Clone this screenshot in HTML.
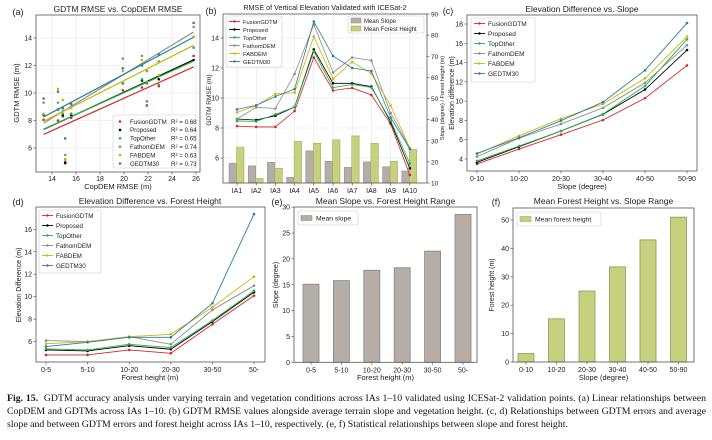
<!DOCTYPE html>
<html><head><meta charset="utf-8">
<style>
html,body{margin:0;padding:0;background:#fff;}
#wrap{position:relative;width:712px;height:440px;overflow:hidden;}
svg{position:absolute;left:0;top:0;font-family:"Liberation Sans","DejaVu Sans",sans-serif;}
#cap{position:absolute;left:7px;top:392px;width:699px;font-family:"Liberation Serif",serif;font-size:9.8px;line-height:13px;text-align:justify;color:#111;}
</style></head>
<body>
<div id="wrap">
<svg id="fig" width="712" height="390" viewBox="0 0 712 390"></svg>
<div id="cap"><b>Fig. 15.</b>&nbsp; GDTM accuracy analysis under varying terrain and vegetation conditions across IAs 1–10 validated using ICESat-2 validation points. (a) Linear relationships between CopDEM and GDTMs across IAs 1–10. (b) GDTM RMSE values alongside average terrain slope and vegetation height. (c, d) Relationships between GDTM errors and average slope and between GDTM errors and forest height across IAs 1–10, respectively. (e, f) Statistical relationships between slope and forest height.</div>
</div>
<script>
// ---------- data ----------
const seriesNames = ['FusionGDTM','Proposed','TopOther','FathomDEM','FABDEM','GEDTM30'];
const seriesR2 = ['0.68','0.64','0.65','0.74','0.63','0.73'];
// (a) scatter
const aCopDEM = [13.3,14.5,14.9,15.1,15.6,19.9,21.5,21.9,22.9,25.8];
const aFusion = [8.05,8.0,8.3,5.0,8.2,10.2,10.4,9.1,10.5,12.7];
const aProposed = [8.4,8.8,8.4,4.9,8.4,10.7,10.9,10.8,11.0,12.4];
const aTopOther = [8.45,8.8,8.5,5.2,8.5,10.7,11.0,9.4,10.6,13.3];
const aFathom = [9.3,9.3,8.7,5.5,9.2,12.5,12.7,11.6,12.3,14.8];
const aFABDEM = [8.5,10.3,9.5,5.2,8.9,11.6,12.4,10.8,11.3,14.1];
const aGEDTM = [9.6,10.1,8.9,6.7,9.2,11.8,12.0,10.7,12.8,15.1];
const aTicksX = [14,16,18,20,22,24,26];
const aTicksY = [6,8,10,12,14];
// (b)
const bCats = ['IA1','IA2','IA3','IA4','IA5','IA6','IA7','IA8','IA9','IA10'];
const bFusion = [8.13,8.07,8.07,9.13,12.7,10.5,10.67,10.2,8.27,4.87];
const bProposed = [8.6,8.53,8.82,9.4,13.24,10.98,10.98,10.76,8.4,5.31];
const bTopOther = [8.47,8.44,8.91,9.4,13.1,10.7,10.9,10.7,8.5,5.64];
const bFathom = [8.6,9.38,9.3,11.6,14.9,11.7,12.7,12.5,9.0,6.67];
const bFABDEM = [9.04,9.49,10.27,10.36,14.1,11.27,12.4,11.64,9.5,6.67];
const bGEDTM = [9.24,9.51,10.1,10.6,15.1,12.8,12.0,11.8,8.7,6.6];
const bSlope = [19.3,18.1,19.8,12.7,25.2,20.3,17.4,20.0,17.7,15.7];
const bForest = [27.0,12.2,17.0,29.7,28.8,30.5,32.3,28.8,20.3,26.0];
const bTicksL = [6,8,10,12,14];
const bTicksR = [10,20,30,40,50,60,70,80,90];
// (c)
const cCats = ['0-10','10-20','20-30','30-40','40-50','50-90'];
const cFusion = [3.48,5.03,6.52,8.04,10.3,13.7];
const cProposed = [3.65,5.27,6.9,8.63,11.2,15.3];
const cTopOther = [3.79,5.34,6.9,8.66,11.57,16.4];
const cFathom = [4.24,6.15,7.63,9.3,11.9,15.8];
const cFABDEM = [4.51,6.4,8.18,9.7,12.37,16.7];
const cGEDTM = [4.58,6.2,7.97,9.9,13.2,18.1];
const cTicksY = [4,6,8,10,12,14,16,18];
// (d)
const dCats = ['0-5','5-10','10-20','20-30','30-50','50-'];
const dFusion = [4.81,4.81,5.26,4.96,7.54,10.09];
const dProposed = [5.26,5.17,5.64,5.32,7.78,10.39];
const dTopOther = [5.35,5.26,5.76,5.47,7.87,10.53];
const dFathom = [6.09,6.0,6.44,5.76,8.82,10.98];
const dFABDEM = [5.8,6.0,6.44,6.65,9.06,11.78];
const dGEDTM = [5.56,5.94,6.38,6.38,9.41,17.36];
const dTicksY = [6,8,10,12,14,16];
// (e)
const eCats = ['0-5','5-10','10-20','20-30','30-50','50-'];
const eSlope = [15.1,15.8,17.8,18.3,21.5,28.6];
const eTicksY = [0,5,10,15,20,25,30];
// (f)
const fCats = ['0-10','10-20','20-30','30-40','40-50','50-90'];
const fHeight = [3.0,15.2,25.0,33.5,43.0,51.0];
const fTicksY = [0,10,20,30,40,50];

const COLORS = ['#d62728','#000000','#22b14c','#8c8c8c','#c9b800','#2a7f9e'];
const NS = 'http://www.w3.org/2000/svg';
const svg = document.getElementById('fig');

function mk(tag, attrs, parent){
  const e = document.createElementNS(NS, tag);
  for (const k in attrs) e.setAttribute(k, attrs[k]);
  (parent||svg).appendChild(e);
  return e;
}
function txt(s, x, y, size, anchor, parent, rot){
  const t = mk('text', {x:x, y:y, 'font-size':size, 'text-anchor':anchor||'middle', fill:'#222'}, parent);
  if (rot) t.setAttribute('transform', 'rotate(-90 '+x+' '+y+')');
  t.textContent = s;
  return t;
}
function frame(g, x0,y0,x1,y1){
  const r = mk('rect', {x:x0,y:y0,width:x1-x0,height:y1-y0,fill:'none',stroke:'#555','stroke-width':0.8}, g);
  
  
}
function yTicks(g, ticks, sy, x, grid, x1){
  ticks.forEach(v=>{
    const y = sy(v);
    if (grid) mk('line',{x1:x,x2:x1,y1:y,y2:y,stroke:'#e3e3e3','stroke-width':0.6},g);
    mk('line',{x1:x-2.5,x2:x,y1:y,y2:y,stroke:'#444','stroke-width':0.6},g);
    const t = txt(String(v), x-4, y+2.5, 7, 'end', g);
    
    
  });
}
function xTicksCat(g, cats, sx, y, grid, y0){
  cats.forEach((c,i)=>{
    const x = sx(i);
    if (grid) mk('line',{x1:x,x2:x,y1:y0,y2:y,stroke:'#e3e3e3','stroke-width':0.6},g);
    mk('line',{x1:x,x2:x,y1:y,y2:y+2.5,stroke:'#444','stroke-width':0.6},g);
    const t = txt(c, x, y+10, 7, 'middle', g);
    
    
  });
}
function seriesLine(g, vals, sx, sy, color, name, w){
  const pts = vals.map((v,i)=>sx(i)+','+sy(v)).join(' ');
  const pl = mk('polyline',{points:pts,fill:'none',stroke:color,'stroke-width':w||0.9},g);
  
  
  vals.forEach((v,i)=>{
    const c = mk('circle',{cx:sx(i),cy:sy(v),r:1.3,fill:color},g);
    
    
  });
}
function lineLegend(g, x, y, w, h, step, fs){
  const r = mk('rect',{x:x,y:y,width:w,height:h,fill:'#fff',stroke:'#ccc','stroke-width':0.6,rx:1.5},g);
  
  
  seriesNames.forEach((n,i)=>{
    const yy = y+5.5+i*step;
    mk('line',{x1:x+3,x2:x+14,y1:yy,y2:yy,stroke:COLORS[i],'stroke-width':0.9},g);
    mk('circle',{cx:x+8.5,cy:yy,r:1.2,fill:COLORS[i]},g);
    const t = txt(n, x+17, yy+2.3, fs, 'start', g);
    
    
  });
}

// ---------- (a) ----------
(function(){
  const g = mk('g',{});
  
  
  const sx = v=>52+(v-14)*12, sy = v=>38+(14-v)*13.75;
  aTicksX.forEach(v=>{
    mk('line',{x1:sx(v),x2:sx(v),y1:15,y2:172,stroke:'#e3e3e3','stroke-width':0.6},g);
    mk('line',{x1:sx(v),x2:sx(v),y1:172,y2:174.5,stroke:'#444','stroke-width':0.6},g);
    const t = txt(String(v), sx(v), 181, 7, 'middle', g);
    
    
  });
  yTicks(g, aTicksY, sy, 36, true, 200);
  frame(g,36,15,200,172);
  const all = [aFusion,aProposed,aTopOther,aFathom,aFABDEM,aGEDTM];
  all.forEach((ys,k)=>{
    const n = ys.length; let mx=0,my=0; aCopDEM.forEach((x,i)=>{mx+=x;my+=ys[i];}); mx/=n; my/=n;
    let sxy=0,sxx=0; aCopDEM.forEach((x,i)=>{sxy+=(x-mx)*(ys[i]-my);sxx+=(x-mx)*(x-mx);});
    const b = sxy/sxx, a0 = my-b*mx;
    const x0=Math.min(...aCopDEM), x1=Math.max(...aCopDEM);
    const l = mk('line',{x1:sx(x0),y1:sy(a0+b*x0),x2:sx(x1),y2:sy(a0+b*x1),stroke:COLORS[k],'stroke-width':1.2},g);
    
    
    ys.forEach((v,i)=>{
      const p = mk('circle',{cx:sx(aCopDEM[i]),cy:sy(v),r:1.3,fill:COLORS[k]},g);
      
      
    });
  });
  const lg = mk('rect',{x:113,y:115,width:83,height:53,fill:'#fff',stroke:'#ccc','stroke-width':0.6,rx:1.5},g);
  
  
  seriesNames.forEach((n,i)=>{
    const yy = 121.5+i*8.4;
    mk('circle',{cx:120,cy:yy,r:1.3,fill:COLORS[i]},g);
    const t = txt(n, 130, yy+2.3, 6.2, 'start', g);
    
    
    const r = txt('R² = '+seriesR2[i], 171, yy+2.3, 6.2, 'start', g);
    
    
  });
  const ti = txt('GDTM RMSE vs. CopDEM RMSE', 118, 12, 8.5, 'middle', g);
  
  
  const pl = txt('(a)', 18, 15, 9, 'middle', g);
  
  
  const yl = txt('GDTM RMSE (m)', 19, 93, 7.5, 'middle', g, true);
  
  
  const xl = txt('CopDEM RMSE (m)', 118, 189, 7.5, 'middle', g);
  
  
})();

// ---------- (b) ----------
(function(){
  const g = mk('g',{});
  
  
  const sx = i=>237+i*19.2, sy = v=>38+(14-v)*15, sr = v=>183-(v-10)*2.1125;
  bCats.forEach((c,i)=>mk('line',{x1:sx(i),x2:sx(i),y1:14,y2:183,stroke:'#e3e3e3','stroke-width':0.6},g));
  yTicks(g, bTicksL, sy, 223, true, 427);
  bTicksR.forEach(v=>{
    mk('line',{x1:427,x2:429.5,y1:sr(v),y2:sr(v),stroke:'#444','stroke-width':0.6},g);
    const t = txt(String(v), 431, sr(v)+2.5, 6.5, 'start', g);
    
    
  });
  bCats.forEach((c,i)=>{
    const b1 = mk('rect',{x:sx(i)-8,y:sr(bSlope[i]),width:7.5,height:183-sr(bSlope[i]),fill:'#b5aea8',stroke:'#888','stroke-width':0.5},g);
    
    
    const b2 = mk('rect',{x:sx(i)-0.5,y:sr(bForest[i]),width:7.5,height:183-sr(bForest[i]),fill:'#c5d17f',stroke:'#9aa55a','stroke-width':0.5},g);
    
    
  });
  xTicksCat(g, bCats, sx, 183, false, 14);
  [bFusion,bProposed,bTopOther,bFathom,bFABDEM,bGEDTM].forEach((v,k)=>seriesLine(g,v,sx,sy,COLORS[k],seriesNames[k],0.8));
  frame(g,223,14,427,183);
  lineLegend(g,226,16,56,51,8,5.8);
  const lg = mk('rect',{x:348,y:16,width:76,height:17,fill:'#fff',stroke:'#ccc','stroke-width':0.6,rx:1.5},g);
  
  
  mk('rect',{x:351,y:18,width:10,height:5,fill:'#b5aea8',stroke:'#888','stroke-width':0.5},g);
  mk('rect',{x:351,y:26,width:10,height:5,fill:'#c5d17f',stroke:'#9aa55a','stroke-width':0.5},g);
  const l1 = txt('Mean Slope', 364, 23, 6, 'start', g);
  
  
  const l2 = txt('Mean Forest Height', 364, 31, 6, 'start', g);
  
  
  const ti = txt('RMSE of Vertical Elevation Validated with ICESat-2', 325, 10, 7.2, 'middle', g);
  
  
  const pl = txt('(b)', 211, 14, 9, 'middle', g);
  
  
  const yl = txt('GDTM RMSE (m)', 211, 100, 6.5, 'middle', g, true);
  
  
  const yr = txt('Slope (degree) / Forest height (m)', 444, 98, 5.6, 'middle', g, true);
  
  
})();

// ---------- (c) ----------
(function(){
  const g = mk('g',{});
  
  
  const sx = i=>477+i*42, sy = v=>24+(18-v)*9.64;
  yTicks(g, cTicksY, sy, 467, false, 697);
  xTicksCat(g, cCats, sx, 171, false, 15);
  [cFusion,cProposed,cTopOther,cFathom,cFABDEM,cGEDTM].forEach((v,k)=>seriesLine(g,v,sx,sy,COLORS[k],seriesNames[k],0.9));
  frame(g,467,15,697,171);
  lineLegend(g,471,18,64,64,10,6.5);
  const ti = txt('Elevation Difference vs. Slope', 582, 12, 8.5, 'middle', g);
  
  
  const pl = txt('(c)', 448, 14, 9, 'middle', g);
  
  
  const yl = txt('Elevation difference (m)', 454, 93, 7, 'middle', g, true);
  
  
  const xl = txt('Slope (degree)', 582, 189, 7.5, 'middle', g);
  
  
})();

// ---------- (d) ----------
(function(){
  const g = mk('g',{});
  
  
  const sx = i=>46+i*41.6, sy = v=>229.3+(16-v)*11.23;
  yTicks(g, dTicksY, sy, 36, false, 265);
  xTicksCat(g, dCats, sx, 362, false, 207);
  [dFusion,dProposed,dTopOther,dFathom,dFABDEM,dGEDTM].forEach((v,k)=>seriesLine(g,v,sx,sy,COLORS[k],seriesNames[k],0.9));
  frame(g,36,207,265,362);
  lineLegend(g,39,210,62,63,10,6.3);
  const ti = txt('Elevation Difference vs. Forest Height', 150, 204, 8.5, 'middle', g);
  
  
  const pl = txt('(d)', 18, 205, 9, 'middle', g);
  
  
  const yl = txt('Elevation Difference (m)', 21, 285, 7, 'middle', g, true);
  
  
  const xl = txt('Forest height (m)', 150, 380, 7.5, 'middle', g);
  
  
})();

// ---------- bar panels ----------
function barPanel(name, label, title, cats, vals, ticks, x0, x1, y0, y1, cx0, step, sy, fill, edge, legendText, legW, yTitle, xTitle, yTitleX){
  const g = mk('g',{});
  
  
  const sx = i=>cx0+i*step;
  yTicks(g, ticks, sy, x0, false, x1);
  cats.forEach((c,i)=>{
    const r = mk('rect',{x:sx(i)-8,y:sy(vals[i]),width:16,height:sy(0)-sy(vals[i]),fill:fill,stroke:edge,'stroke-width':0.8},g);
    
    
  });
  xTicksCat(g, cats, sx, y1, false, y0);
  frame(g,x0,y0,x1,y1);
  const lg = mk('rect',{x:x0+4,y:y0+4,width:legW,height:14,fill:'#fff',stroke:'#ccc','stroke-width':0.6,rx:1.5},g);
  
  
  mk('rect',{x:x0+7,y:y0+8.5,width:11,height:5,fill:fill,stroke:edge,'stroke-width':0.5},g);
  const lt = txt(legendText, x0+22, y0+13.5, 6.8, 'start', g);
  
  
  const cx = (x0+x1)/2;
  const ti = txt(title, cx, 204, 8.5, 'middle', g);
  
  
  const pl = txt(label, x0-17, 205, 9, 'middle', g);
  
  
  const yl = txt(yTitle, yTitleX, 285, 7, 'middle', g, true);
  
  
  const xl = txt(xTitle, cx, 380, 7.5, 'middle', g);
  
  
}
barPanel('panel-e-mean-slope','(e)','Mean Slope vs. Forest Height Range',eCats,eSlope,eTicksY,294,477,207,362.3,311,30.4,v=>362.3-v*5.17,'#b5aea8','#8a8480','Mean slope',60,'Slope (degree)','Forest height (m)',278);
barPanel('panel-f-mean-forest-height','(f)','Mean Forest Height vs. Slope Range',fCats,fHeight,fTicksY,513,694,208,362,526,30.5,v=>362-v*2.84,'#c5d17f','#8e9a58','Mean forest height',84,'Forest height (m)','Slope (degree)',494);
</script>
</body></html>
